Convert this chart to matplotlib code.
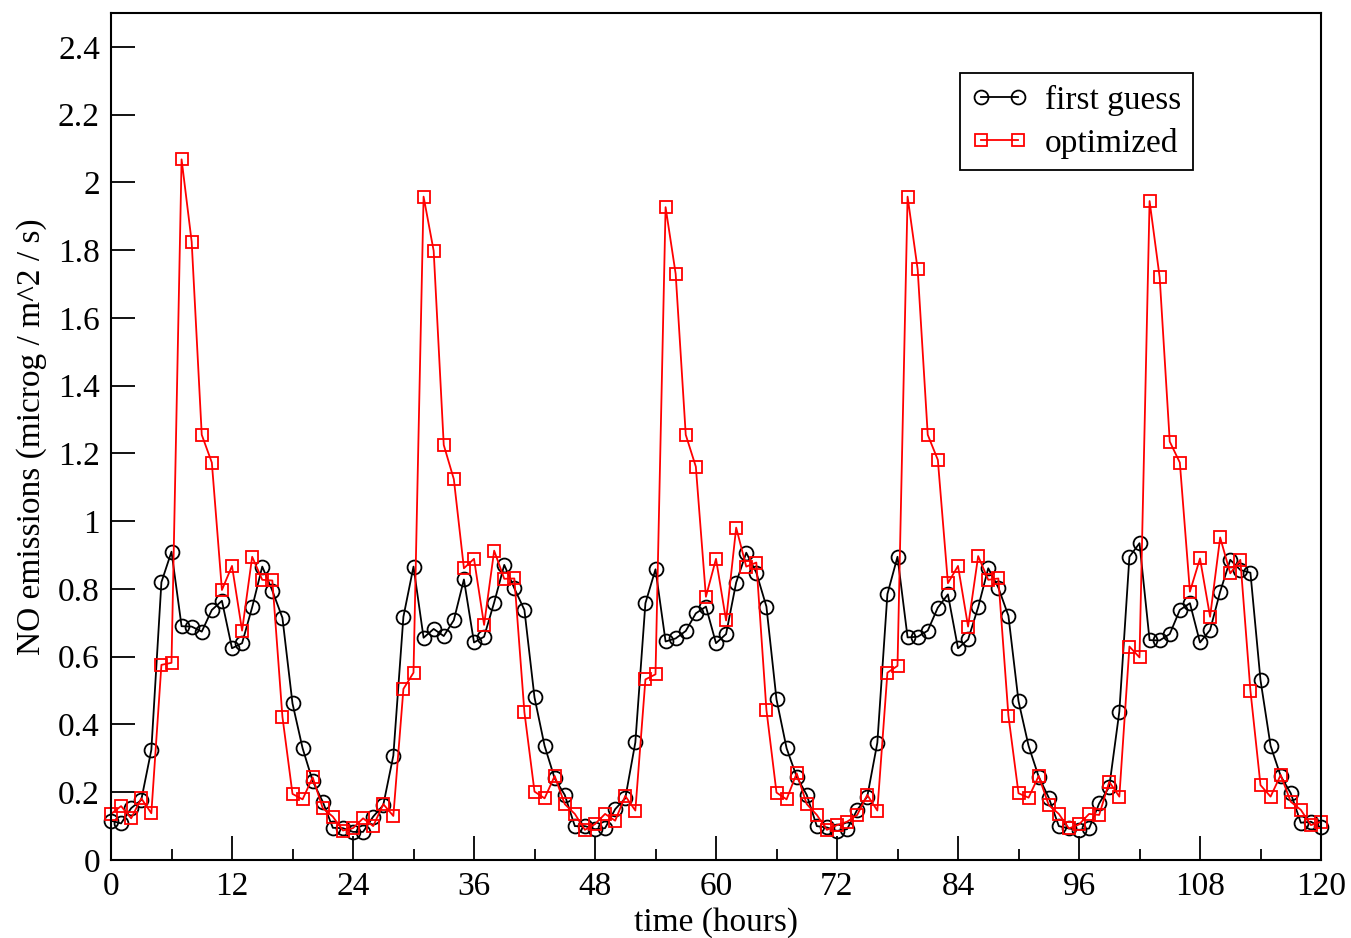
import matplotlib
matplotlib.use("Agg")
import matplotlib.pyplot as plt
import numpy as np

plt.rcParams['font.family'] = ['Liberation Serif', 'DejaVu Serif']
plt.rcParams['mathtext.fontset'] = 'stix'

hours = np.arange(0, 121)

first_guess = [
    0.116, 0.108, 0.153, 0.177, 0.325, 0.82, 0.91, 0.69, 0.689, 0.674,
    0.738, 0.765, 0.625, 0.64, 0.746, 0.866, 0.795, 0.715, 0.462, 0.33,
    0.233, 0.172, 0.095, 0.094, 0.083, 0.083, 0.128, 0.162, 0.308, 0.718,
    0.866, 0.656, 0.682, 0.661, 0.708, 0.828, 0.642, 0.659, 0.76, 0.871,
    0.802, 0.738, 0.48, 0.337, 0.241, 0.192, 0.1, 0.1, 0.091, 0.094,
    0.15, 0.182, 0.347, 0.758, 0.858, 0.645, 0.654, 0.676, 0.728, 0.748,
    0.64, 0.667, 0.819, 0.907, 0.848, 0.748, 0.474, 0.33, 0.246, 0.192,
    0.1, 0.096, 0.086, 0.091, 0.148, 0.187, 0.346, 0.785, 0.895, 0.657,
    0.659, 0.677, 0.745, 0.784, 0.625, 0.651, 0.746, 0.861, 0.804, 0.721,
    0.469, 0.337, 0.246, 0.184, 0.1, 0.093, 0.089, 0.093, 0.167, 0.216,
    0.438, 0.895, 0.935, 0.649, 0.648, 0.667, 0.738, 0.758, 0.642, 0.679,
    0.792, 0.886, 0.856, 0.848, 0.531, 0.337, 0.248, 0.197, 0.11, 0.113,
    0.096,
]

optimized = [
    0.136, 0.159, 0.123, 0.182, 0.138, 0.576, 0.582, 2.068, 1.825, 1.255,
    1.173, 0.797, 0.868, 0.677, 0.895, 0.827, 0.825, 0.423, 0.195, 0.179,
    0.244, 0.153, 0.128, 0.087, 0.094, 0.123, 0.1, 0.165, 0.13, 0.505,
    0.553, 1.958, 1.798, 1.225, 1.124, 0.861, 0.889, 0.694, 0.913, 0.83,
    0.831, 0.436, 0.202, 0.182, 0.248, 0.165, 0.136, 0.089, 0.106, 0.136,
    0.116, 0.189, 0.146, 0.533, 0.548, 1.927, 1.73, 1.255, 1.161, 0.777,
    0.889, 0.707, 0.981, 0.866, 0.878, 0.443, 0.199, 0.179, 0.256, 0.165,
    0.133, 0.089, 0.103, 0.113, 0.133, 0.192, 0.146, 0.553, 0.573, 1.958,
    1.743, 1.255, 1.181, 0.817, 0.868, 0.689, 0.897, 0.827, 0.831, 0.426,
    0.197, 0.184, 0.248, 0.162, 0.136, 0.093, 0.105, 0.136, 0.133, 0.231,
    0.187, 0.63, 0.598, 1.945, 1.72, 1.235, 1.173, 0.792, 0.89, 0.718,
    0.952, 0.846, 0.886, 0.5, 0.221, 0.187, 0.251, 0.172, 0.148, 0.103,
    0.113,
]

fig = plt.figure(figsize=(13.51, 9.38), dpi=100)
ax = fig.add_axes([111 / 1351, 78 / 938, 1210 / 1351, 847 / 938])

ax.plot(hours, first_guess, color='black', lw=1.3, marker='o', ms=10,
        mfc='none', mec='black', mew=1.3, label='first guess', clip_on=False)
ax.plot(hours, optimized, color='red', lw=1.3, marker='s', ms=8,
        mfc='none', mec='red', mew=1.3, label='optimized', clip_on=False)

ax.set_xlim(0, 120)
ax.set_ylim(0, 2.5)
ax.set_xticks(np.arange(0, 121, 12))
ax.set_xticks(np.arange(6, 120, 12), minor=True)
ax.set_yticks(np.arange(0, 2.41, 0.2))
ax.set_yticklabels(['0'] + ['%g' % v for v in np.arange(0.2, 2.41, 0.2)])

ax.tick_params(axis='both', which='major', direction='in', length=17,
               width=1.3, labelsize=24, pad=8)
ax.tick_params(axis='x', which='minor', direction='in', length=8, width=1.3)
for sp in ax.spines.values():
    sp.set_linewidth(1.5)

ax.set_xlabel('time (hours)', fontsize=24, labelpad=4)
ax.set_ylabel('NO emissions (microg / m^2 / s)', fontsize=24, labelpad=8)

leg = ax.legend(loc='upper right', bbox_to_anchor=(0.894, 0.929),
                borderaxespad=0, numpoints=2, fontsize=24, fancybox=False,
                edgecolor='black', framealpha=1, handlelength=1.7,
                handletextpad=0.5, borderpad=0.35, labelspacing=0.35)
leg.get_frame().set_linewidth(1.3)

fig.savefig('out.png', dpi=100)
